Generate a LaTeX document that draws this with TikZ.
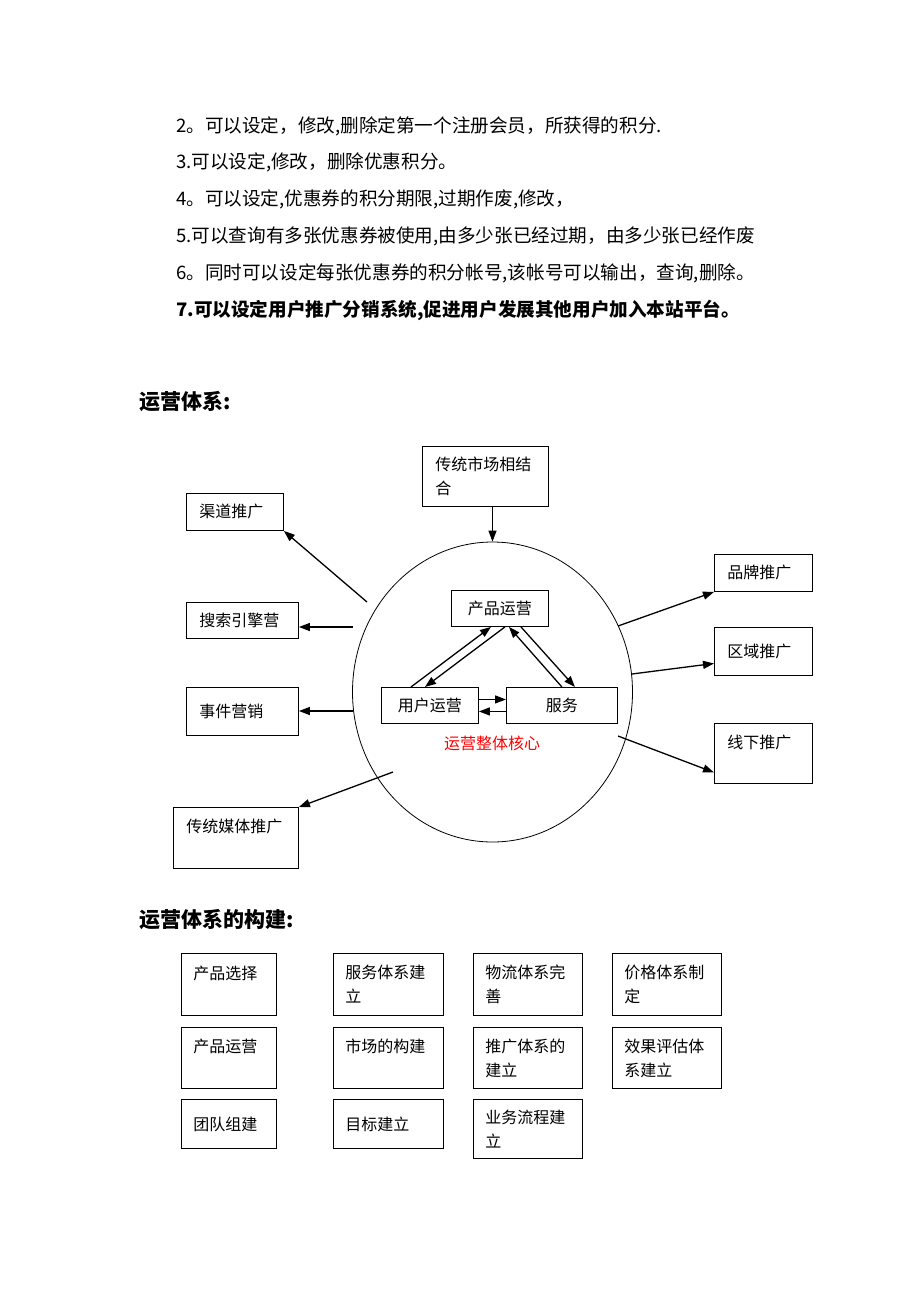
\documentclass[tikz,border=0pt]{standalone}
\usepackage{fontspec}
\setmainfont{Noto Sans CJK SC}
\usetikzlibrary{arrows.meta, positioning, shapes.geometric, calc}

\begin{document}
\begin{tikzpicture}[x=1pt, y=-1pt,
    every node/.style={font=\fontsize{16}{24}\selectfont},
    box/.style 2 args={draw, line width=0.9pt, rectangle, anchor=north west, align=left,
        inner xsep=13pt, inner ysep=2pt, text width=#1pt, minimum height=#2pt},
    ibox/.style={draw, line width=0.9pt, rectangle, anchor=north west, inner sep=0pt},
    arr/.style={line width=1.3pt, -{Triangle[length=11pt,width=8pt]}},
    item/.style={anchor=west, inner sep=0pt, font=\fontsize{18.6}{22}\selectfont},
    title/.style={anchor=west, inner sep=0pt, font=\fontsize{21}{24}\selectfont\bfseries}]

    \useasboundingbox (0,0) rectangle (920,1302);

    % 上方条目
    \foreach \t [count=\i] in {
        {2。可以设定，修改,删除定第一个注册会员，所获得的积分.},
        {3.可以设定,修改，删除优惠积分。},
        {4。可以设定,优惠券的积分期限,过期作废,修改，},
        {5.可以查询有多张优惠券被使用,由多少张已经过期，由多少张已经作废},
        {6。同时可以设定每张优惠券的积分帐号,该帐号可以输出，查询,删除。},
        {\bfseries 7.可以设定用户推广分销系统,促进用户发展其他用户加入本站平台。}} {
        \node[item] (item\i) at (176,{126+(\i-1)*36.8}) {\t};
    }

    \node[title] (tixi) at (139,402) {运营体系:};

    % 核心圆和内部三框
    \node[ellipse, draw, line width=0.8pt, minimum width=280pt, minimum height=300pt, inner sep=0pt] (core) at (492.5,692) {};
    \node[ibox, minimum width=97pt, minimum height=36pt] (chanpin) at (451,590) {产品运营};
    \node[ibox, minimum width=97pt, minimum height=36pt] (yonghu) at (381,687) {用户运营};
    \node[ibox, minimum width=111pt, minimum height=36pt] (fuwu) at (506,687) {服务};
    \node[text=red, inner sep=0pt] (hexin) at (492,743) {运营整体核心};

    \draw[arr] ([xshift=-19pt]yonghu.north) -- ([xshift=-9pt]chanpin.south);
    \draw[arr] ([xshift=5pt]chanpin.south) -- ([xshift=-5pt]yonghu.north);
    \draw[arr] (fuwu.north) -- ([xshift=9pt]chanpin.south);
    \draw[arr] ([xshift=21pt]chanpin.south) -- ([xshift=13pt]fuwu.north);
    \draw[arr] ([yshift=6pt]yonghu.east) -- ([yshift=6pt]fuwu.west);
    \draw[arr] ([yshift=-6pt]fuwu.west) -- ([yshift=-6pt]yonghu.east);

    % 外围推广方式
    \node[box={100}{60}] (shichang) at (422,446) {传统市场相结\\合};
    \node[box={71}{37}] (qudao) at (186,493) {渠道推广};
    \node[box={86}{36}] (sousuo) at (186,602) {搜索引擎营};
    \node[box={86}{48}] (shijian) at (186,687) {事件营销};
    \node[box={99}{61}] (meiti) at (173,807) {传统媒体推广\\~};
    \node[box={72}{37}] (pinpai) at (714,554) {品牌推广};
    \node[box={72}{48}] (quyu) at (714,627) {区域推广};
    \node[box={72}{60}] (xianxia) at (714,723) {线下推广\\~};

    \coordinate (oqudao) at (367,602);
    \coordinate (osousuo) at (353,627);
    \coordinate (oshijian) at (353,711);
    \coordinate (ometi) at (393,772);
    \coordinate (opinpai) at (618,626);
    \coordinate (oquyu) at (632,674);
    \coordinate (oxianxia) at (618,736);

    \draw[arr] (shichang.south -| core.north) -- (core.north);
    \draw[arr] (oqudao) -- (qudao.south east);
    \draw[arr] (osousuo) -- (osousuo -| sousuo.east);
    \draw[arr] (oshijian) -- (oshijian -| shijian.east);
    \draw[arr] (ometi) -- (meiti.north east);
    \draw[arr] (opinpai) -- (pinpai.south west);
    \draw[arr] (oquyu) -- ([yshift=-12pt]quyu.west);
    \draw[arr] (oxianxia) -- ([yshift=-19pt]xianxia.west);

    \node[title] (goujian) at (139,920) {运营体系的构建:};

    % 下方11个框框
    \foreach \n/\x/\y/\w/\h/\t in {
        xuanze/181/953/71/62/{产品选择\\~},
        fuwutx/333/953/86/62/{服务体系建\\立},
        wuliu/473/953/85/62/{物流体系完\\善},
        jiage/612/953/85/62/{价格体系制\\定},
        yunying/181/1027/71/61/{产品运营\\~},
        shichanggj/333/1027/86/61/{市场的构建\\~},
        tuiguang/473/1027/85/61/{推广体系的\\建立},
        xiaoguo/612/1027/85/61/{效果评估体\\系建立},
        tuandui/181/1099/71/49/{团队组建},
        mubiao/333/1099/86/49/{目标建立},
        yewu/473/1099/85/59/{业务流程建\\立}} {
        \node[box={\w}{\h}, inner xsep=12pt] (\n) at (\x,\y) {\t};
    }
\end{tikzpicture}
\end{document}
